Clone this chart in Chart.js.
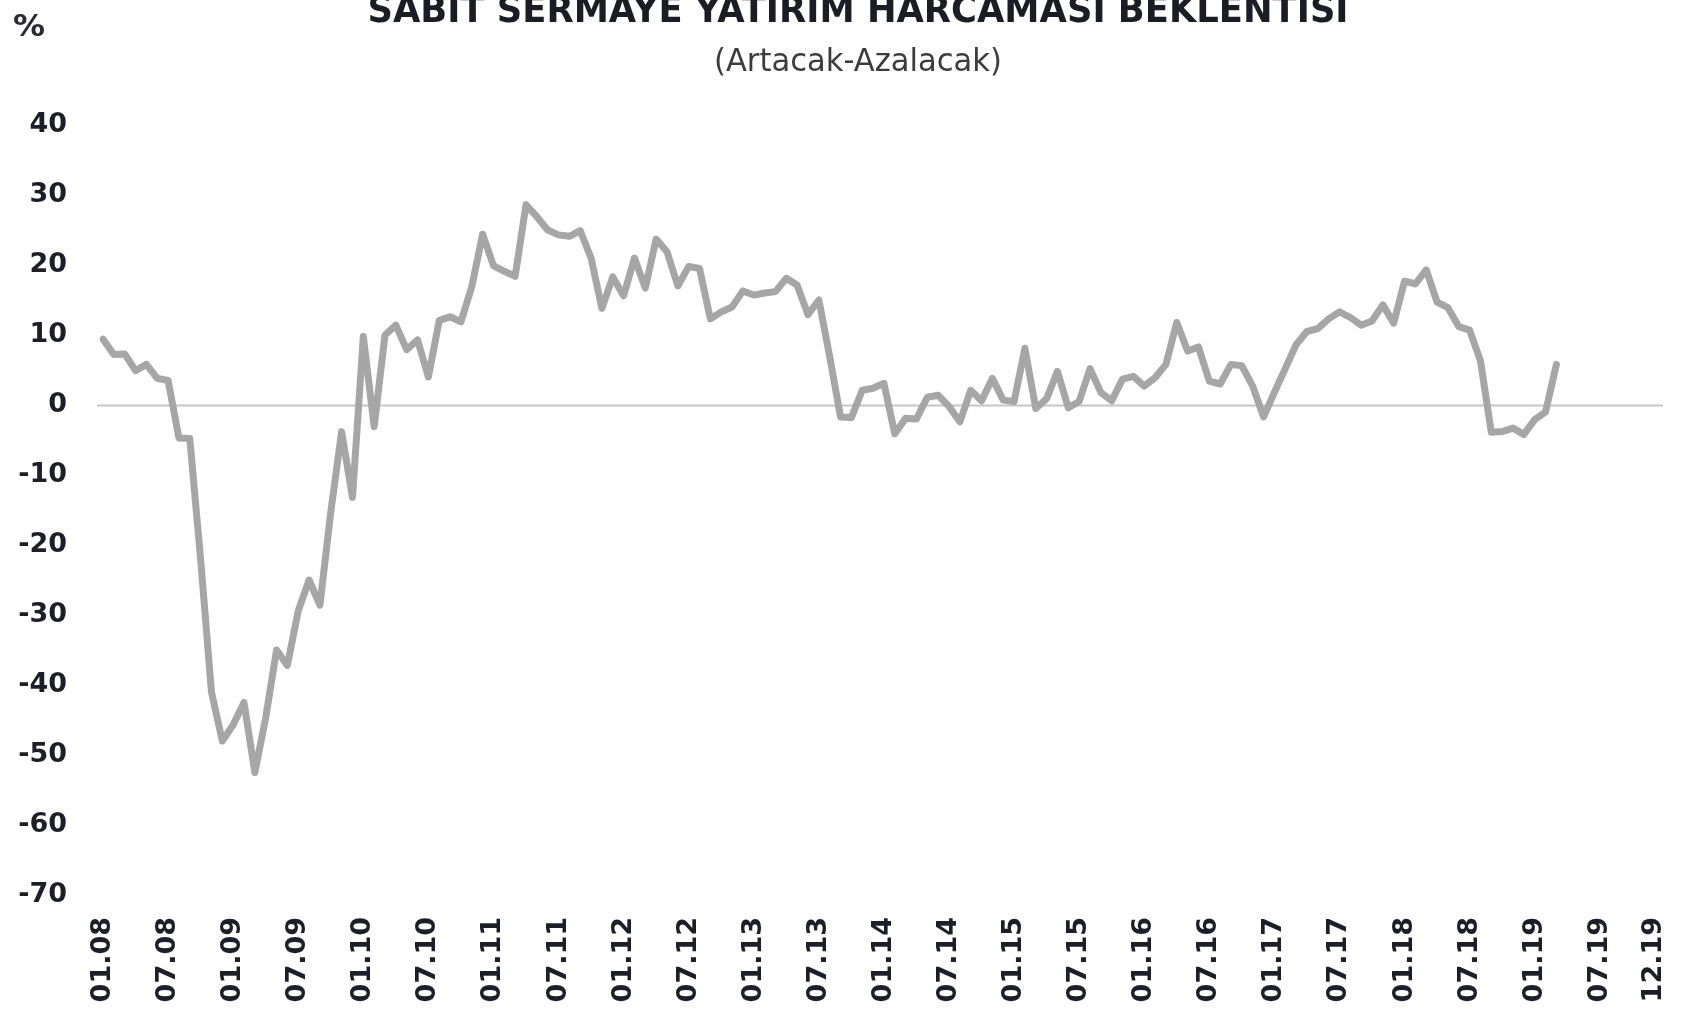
<!DOCTYPE html>
<html lang="tr">
<head>
<meta charset="utf-8">
<title>Sabit Sermaye Yatırım Harcaması Beklentisi</title>
<script src="https://cdn.jsdelivr.net/npm/chart.js@4.4.1/dist/chart.umd.min.js"></script>
<style>
  html, body { margin: 0; padding: 0; background: #ffffff; }
  #kutu { width: 1688px; height: 1015px; position: relative; }
</style>
</head>
<body>
<div id="kutu">
  <canvas id="yatirimChart" width="1688" height="1015"></canvas>
</div>
<script>
// Başlıklar
let baslik = "SABİT SERMAYE YATIRIM HARCAMASI BEKLENTİSİ";
let altBaslik = "(Artacak-Azalacak)";
let birim = "%";

// Eksen etiketleri (her altı ayda bir + son ay)
let etiketler = [
  "01.08", "07.08", "01.09", "07.09", "01.10", "07.10", "01.11", "07.11",
  "01.12", "07.12", "01.13", "07.13", "01.14", "07.14", "01.15", "07.15",
  "01.16", "07.16", "01.17", "07.17", "01.18", "07.18", "01.19", "07.19",
  "12.19",
];

// Aylar: 01.08 - 12.19
let aylar = [];
for (let yil = 8; yil <= 19; yil++) {
  for (let ay = 1; ay <= 12; ay++) {
    aylar.push(String(ay).padStart(2, "0") + "." + String(yil).padStart(2, "0"));
  }
}

// Artacak - Azalacak farkı (%), 01.08 - 03.19
let degerler2008_2010 = [
  9.4, 7.2, 7.3, 4.9, 5.8, 3.8, 3.5, -4.7, -4.8, -22.0, -41.0, -48.0,
  -45.7, -42.5, -52.5, -44.7, -35.0, -37.2, -29.4, -25.0, -28.6, -15.3, -3.8, -13.2,
  9.8, -3.1, 10.0, 11.4, 7.9, 9.3, 4.0, 12.1, 12.6, 11.9, 16.9, 24.4,
];
let degerler2011_2013 = [
  19.9, 19.1, 18.4, 28.6, 26.9, 25.0, 24.3, 24.1, 24.9, 21.0, 13.8, 18.3,
  15.6, 21.0, 16.7, 23.7, 21.9, 17.0, 19.8, 19.5, 12.3, 13.3, 14.0, 16.3,
  15.7, 16.0, 16.2, 18.1, 17.1, 12.9, 15.0, 6.9, -1.7, -1.8, 2.1, 2.4,
];
let degerler2014_2016 = [
  3.1, -4.1, -1.9, -2.0, 1.1, 1.4, -0.2, -2.4, 2.1, 0.6, 3.8, 0.7,
  0.5, 8.1, -0.5, 0.9, 4.8, -0.4, 0.5, 5.2, 1.8, 0.6, 3.7, 4.1,
  2.7, 3.9, 5.8, 11.8, 7.7, 8.3, 3.4, 3.0, 5.8, 5.6, 2.7, -1.7,
];
let degerler2017_2019 = [
  1.8, 5.2, 8.6, 10.5, 10.9, 12.3, 13.3, 12.5, 11.4, 12.0, 14.3, 11.7,
  17.7, 17.3, 19.3, 14.7, 13.9, 11.2, 10.7, 6.3, -3.9, -3.8, -3.3, -4.2,
  -2.1, -1.0, 5.8,
];
let degerler = degerler2008_2010.concat(degerler2011_2013, degerler2014_2016, degerler2017_2019);

let yaziRengi = "#1e1e28";

// Başlık, alt başlık, % işareti ve sıfır çizgisi
const baslikPlugin = {
  id: "baslikPlugin",
  beforeDatasetsDraw(chart) {
    const ctx = chart.ctx;
    const alan = chart.chartArea;
    const y0 = Math.round(chart.scales.y.getPixelForValue(0)) + 0.5;
    ctx.save();
    ctx.strokeStyle = "#c6c6c6";
    ctx.lineWidth = 2;
    ctx.beginPath();
    ctx.moveTo(alan.left - 6, y0);
    ctx.lineTo(alan.right + 9, y0);
    ctx.stroke();
    ctx.restore();
  },
  afterDraw(chart) {
    const ctx = chart.ctx;
    function yaz(metin, font, renk, x, y, hizala, genislik) {
      ctx.save();
      ctx.font = font;
      ctx.fillStyle = renk;
      ctx.textAlign = hizala;
      ctx.textBaseline = "alphabetic";
      let olcek = 1;
      if (genislik) {
        olcek = genislik / ctx.measureText(metin).width;
      }
      ctx.translate(x, y);
      ctx.scale(olcek, 1);
      ctx.fillText(metin, 0, 0);
      ctx.restore();
    }
    yaz(baslik, "bold 38px 'DejaVu Sans'", "#1c1c24", 858, 22, "center", 981);
    yaz(altBaslik, "32px 'DejaVu Sans'", "#3c3c3c", 858, 71, "center", 288);
    yaz(birim, "bold 30px 'DejaVu Sans'", "#2a2a34", 13, 36, "left", 32);
  },
};

let ctx = document.getElementById("yatirimChart").getContext("2d");
let yatirimChart = new Chart(ctx, {
  type: "line",
  data: {
    labels: aylar,
    datasets: [
      {
        label: "Sabit sermaye yatırım harcaması beklentisi",
        data: degerler,
        borderColor: "#a6a6a6",
        backgroundColor: "#a6a6a6",
        borderWidth: 7,
        borderJoinStyle: "round",
        borderCapStyle: "round",
        pointRadius: 0,
        fill: false,
        tension: 0,
      },
    ],
  },
  options: {
    responsive: false,
    animation: false,
    layout: {
      padding: { top: 125, right: 34, bottom: 0, left: 0 },
    },
    plugins: {
      legend: { display: false },
      tooltip: { enabled: false },
      title: { display: false },
    },
    scales: {
      x: {
        type: "category",
        offset: false,
        grid: { display: false, drawTicks: false },
        border: { display: false },
        ticks: {
          autoSkip: false,
          maxRotation: 90,
          minRotation: 90,
          padding: 22,
          color: yaziRengi,
          font: { family: "'DejaVu Sans'", size: 27, weight: "bold" },
          callback: function (value) {
            let etiket = this.getLabelForValue(value);
            return etiketler.includes(etiket) ? etiket : null;
          },
        },
        afterFit: function (scale) {
          scale.height = 120;
          scale.paddingLeft = 0;
          scale.paddingRight = 0;
        },
      },
      y: {
        min: -70,
        max: 40,
        ticks: {
          stepSize: 10,
          padding: 36,
          color: yaziRengi,
          font: { family: "'DejaVu Sans'", size: 27, weight: "bold" },
        },
        grid: { display: false, drawTicks: false },
        border: { display: false },
        afterFit: function (scale) {
          scale.width = 103;
          scale.paddingTop = 0;
          scale.paddingBottom = 0;
        },
      },
    },
  },
  plugins: [baslikPlugin],
});
</script>
</body>
</html>
